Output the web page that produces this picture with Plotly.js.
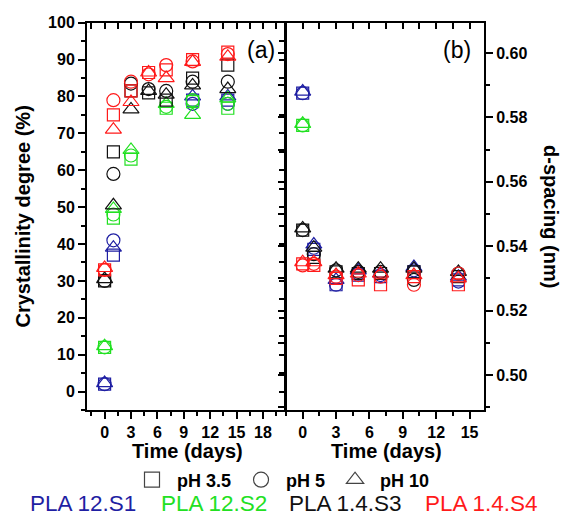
<!DOCTYPE html>
<html>
<head>
<meta charset="utf-8">
<script src="https://cdn.plot.ly/plotly-3.0.1.min.js"></script>
<style>html,body{margin:0;padding:0;background:#fff;}#chart{width:568px;height:517px;}</style>
</head>
<body>
<div id="chart"></div>
<script>
// Time points (days)
const days = [0, 1, 3, 5, 7, 10, 14];
const sampleNames = ['PLA 12.S1', 'PLA 12.S2', 'PLA 1.4.S3', 'PLA 1.4.S4'];
const sampleColors = ['#1f1fa3', '#22e022', '#111111', '#ff1a1a'];
const phNames = ['pH 3.5', 'pH 5', 'pH 10'];
const phSymbols = ['square-open', 'circle-open', 'triangle-up-open'];

// (a) Crystallinity degree (%)
const crystS1_ph35 = [2.0, 37.0, null, null, null, 79.0, 79.0];
const crystS1_ph5  = [2.0, 41.0, null, null, null, 78.0, 78.0];
const crystS1_ph10 = [2.3, 39.0, null, null, null, 80.0, 80.0];
const crystS2_ph35 = [12.0, 47.0, 63.0, null, 76.8, 78.6, 76.8];
const crystS2_ph5  = [12.0, 48.0, 64.0, null, 77.2, 79.0, 78.0];
const crystS2_ph10 = [12.3, 49.5, 65.5, null, 78.0, 75.0, 79.5];
const crystS3_ph35 = [30.0, 65.0, 81.5, 81.0, 79.0, 85.0, 88.5];
const crystS3_ph5  = [30.0, 59.0, 83.5, 82.0, 81.5, 84.0, 84.0];
const crystS3_ph10 = [30.5, 50.5, 76.5, 81.5, 80.5, 83.0, 82.0];
const crystS4_ph35 = [33.0, 75.0, 81.5, 86.5, 87.2, 90.0, 92.0];
const crystS4_ph5  = [33.0, 79.0, 84.0, 86.0, 88.5, 89.5, 91.5];
const crystS4_ph10 = [33.5, 71.0, 78.5, 86.5, 85.0, 89.4, 90.8];

// (b) d-spacing (nm)
const dspS1_ph35 = [0.5875, 0.5390, 0.5280, 0.5310, 0.5305, 0.5320, 0.5295];
const dspS1_ph5  = [0.5875, 0.5395, 0.5280, 0.5315, 0.5310, 0.5325, 0.5290];
const dspS1_ph10 = [0.5880, 0.5405, 0.5295, 0.5325, 0.5315, 0.5335, 0.5305];
const dspS2_ph35 = [0.5775, null, null, null, null, null, null];
const dspS2_ph5  = [0.5775, null, null, null, null, null, null];
const dspS2_ph10 = [0.5780, null, null, null, null, null, null];
const dspS3_ph35 = [0.5450, 0.5365, 0.5320, 0.5315, 0.5315, 0.5320, 0.5305];
const dspS3_ph5  = [0.5450, 0.5375, 0.5325, 0.5320, 0.5320, 0.5295, 0.5315];
const dspS3_ph10 = [0.5455, 0.5395, 0.5330, 0.5330, 0.5330, 0.5330, 0.5320];
const dspS4_ph35 = [0.5345, 0.5340, 0.5300, 0.5295, 0.5280, 0.5305, 0.5280];
const dspS4_ph5  = [0.5340, 0.5345, 0.5305, 0.5310, 0.5305, 0.5280, 0.5315];
const dspS4_ph10 = [0.5350, 0.5350, 0.5310, 0.5315, 0.5315, 0.5310, 0.5300];

const crystSeries = [
  [crystS1_ph35, crystS1_ph5, crystS1_ph10],
  [crystS2_ph35, crystS2_ph5, crystS2_ph10],
  [crystS3_ph35, crystS3_ph5, crystS3_ph10],
  [crystS4_ph35, crystS4_ph5, crystS4_ph10]
];
const dspSeries = [
  [dspS1_ph35, dspS1_ph5, dspS1_ph10],
  [dspS2_ph35, dspS2_ph5, dspS2_ph10],
  [dspS3_ph35, dspS3_ph5, dspS3_ph10],
  [dspS4_ph35, dspS4_ph5, dspS4_ph10]
];

const FONT = 'Liberation Sans, Arial, sans-serif';
const markerSizes = [12, 13, 14];

const traces = [];
// invisible traces so the frame (mirror) axes are drawn
traces.push({x: [null], y: [null], xaxis: 'x3', yaxis: 'y3', type: 'scatter', mode: 'markers', showlegend: false, hoverinfo: 'skip'});
traces.push({x: [null], y: [null], xaxis: 'x4', yaxis: 'y4', type: 'scatter', mode: 'markers', showlegend: false, hoverinfo: 'skip'});
for (let s = 0; s < 4; s++) {
  for (let p = 0; p < 3; p++) {
    traces.push({
      x: days, y: crystSeries[s][p], xaxis: 'x', yaxis: 'y',
      type: 'scatter', mode: 'markers', showlegend: false,
      name: sampleNames[s] + ' ' + phNames[p],
      marker: {symbol: phSymbols[p], size: markerSizes[p], color: sampleColors[s], line: {width: 1.2, color: sampleColors[s]}}
    });
    traces.push({
      x: days, y: dspSeries[s][p], xaxis: 'x2', yaxis: 'y2',
      type: 'scatter', mode: 'markers', showlegend: false,
      name: sampleNames[s] + ' ' + phNames[p],
      marker: {symbol: phSymbols[p], size: markerSizes[p], color: sampleColors[s], line: {width: 1.2, color: sampleColors[s]}}
    });
  }
}
// legend entries for pH symbols
for (let p = 0; p < 3; p++) {
  traces.push({
    x: [null], y: [null], xaxis: 'x', yaxis: 'y', type: 'scatter', mode: 'markers',
    name: phNames[p], showlegend: true,
    marker: {symbol: phSymbols[p], size: 15, color: '#444', line: {width: 1.2, color: '#444'}}
  });
}

const tickFont = {family: FONT, size: 16, color: '#000', weight: 'bold'};
const titleFont = {family: FONT, size: 20, color: '#000', weight: 'bold'};
const dA = [87/568, 285/568];
const dB = [286/568, 484/568];
const dY = [1 - 410/517, 1 - 22.7/517];

function baseAxis(extra) {
  return Object.assign({
    showgrid: false, zeroline: false, showline: true, linecolor: '#000', linewidth: 2,
    ticks: 'outside', ticklen: 7, tickwidth: 2, tickcolor: '#000', tickfont: tickFont,
    fixedrange: true
  }, extra);
}

const layout = {
  width: 568, height: 517,
  margin: {l: 0, r: 0, t: 0, b: 0, pad: 0},
  paper_bgcolor: '#fff', plot_bgcolor: '#fff',
  font: {family: FONT, color: '#000'},
  xaxis: baseAxis({domain: dA, anchor: 'y', range: [-2, 20.5], tick0: 0, dtick: 3,
    minor: {dtick: 1.5, tick0: 0, ticks: 'outside', ticklen: 4, tickwidth: 2, tickcolor: '#000'}}),
  yaxis: baseAxis({domain: dY, anchor: 'x', range: [-5, 100], tick0: 0, dtick: 10,
    minor: {dtick: 5, tick0: 0, ticks: 'outside', ticklen: 4, tickwidth: 2, tickcolor: '#000'},
    title: {text: 'Crystallinity degree (%)', font: titleFont, standoff: 12}}),
  xaxis3: baseAxis({overlaying: 'x', anchor: 'y', side: 'top', range: [-2, 20.5], tick0: 0, dtick: 1.5,
    ticks: 'inside', ticklen: 6, showticklabels: false}),
  yaxis3: baseAxis({overlaying: 'y', anchor: 'x', side: 'right', range: [-5, 100], tick0: 0, dtick: 5,
    ticks: 'inside', ticklen: 6, showticklabels: false}),
  xaxis2: baseAxis({domain: dB, anchor: 'y2', range: [-1.5, 16.3], tick0: 0, dtick: 3,
    minor: {dtick: 1.5, tick0: 0, ticks: 'outside', ticklen: 4, tickwidth: 2, tickcolor: '#000'}}),
  yaxis2: baseAxis({domain: dY, anchor: 'x2', side: 'right', range: [0.4891, 0.6094], tick0: 0.5, dtick: 0.02,
    tickformat: '.2f',
    minor: {dtick: 0.01, tick0: 0.5, ticks: 'outside', ticklen: 4, tickwidth: 2, tickcolor: '#000'}}),
  xaxis4: baseAxis({overlaying: 'x2', anchor: 'y2', side: 'top', range: [-1.5, 16.3], tick0: 0, dtick: 1.5,
    ticks: 'inside', ticklen: 6, showticklabels: false}),
  yaxis4: baseAxis({overlaying: 'y2', anchor: 'x2', side: 'left', range: [0.4891, 0.6094], tick0: 0.5, dtick: 0.01,
    ticks: 'outside', ticklen: 6, showticklabels: false}),
  showlegend: true,
  legend: {orientation: 'h', x: 281/568, xanchor: 'center', y: 1 - 480/517, yanchor: 'middle',
    font: {family: FONT, size: 18, color: '#000', weight: 'bold'}, bgcolor: 'rgba(0,0,0,0)',
    itemwidth: 40, tracegroupgap: 0},
  annotations: [
    {text: 'Time (days)', xref: 'paper', yref: 'paper', x: 187/568, y: 1 - 451/517, showarrow: false,
      font: titleFont, xanchor: 'center', yanchor: 'middle'},
    {text: 'Time (days)', xref: 'paper', yref: 'paper', x: 386/568, y: 1 - 451/517, showarrow: false,
      font: titleFont, xanchor: 'center', yanchor: 'middle'},
    {text: '(a)', xref: 'paper', yref: 'paper', x: 261/568, y: 1 - 50/517, showarrow: false,
      font: {family: FONT, size: 23, color: '#000'}, xanchor: 'center', yanchor: 'middle'},
    {text: '(b)', xref: 'paper', yref: 'paper', x: 457/568, y: 1 - 50/517, showarrow: false,
      font: {family: FONT, size: 23, color: '#000'}, xanchor: 'center', yanchor: 'middle'},
    {text: 'd-spacing (nm)', xref: 'paper', yref: 'paper', x: 551/568, y: 1 - 216/517, showarrow: false,
      textangle: 90, font: titleFont, xanchor: 'center', yanchor: 'middle'}
  ]
};
const labelCenters = [83, 214, 345, 481.5];
for (let s = 0; s < 4; s++) {
  layout.annotations.push({text: sampleNames[s], xref: 'paper', yref: 'paper', x: labelCenters[s]/568, y: 1 - 503/517,
    showarrow: false, xanchor: 'center', yanchor: 'middle', borderpad: 0,
    font: {family: FONT, size: 22.5, color: sampleColors[s]}});
}

Plotly.newPlot('chart', traces, layout, {staticPlot: true, displayModeBar: false});
</script>
</body>
</html>
